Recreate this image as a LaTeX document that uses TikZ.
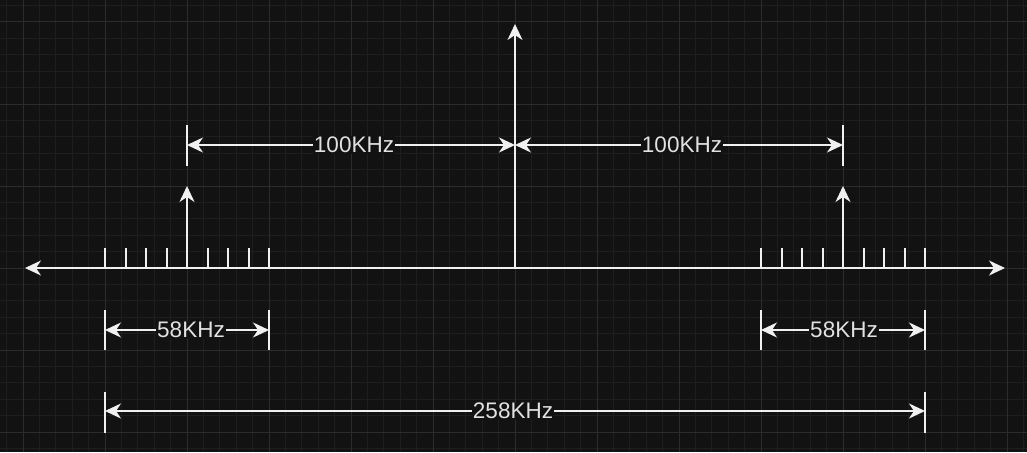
\documentclass[tikz,border=0pt]{standalone}
\usepackage{fontspec}
\setmainfont{Liberation Sans}
\usetikzlibrary{arrows.meta}
\definecolor{bg}{RGB}{18,18,18}
\definecolor{gminor}{RGB}{30,30,30}
\definecolor{gmajor}{RGB}{44,44,44}
\definecolor{ink}{RGB}{240,240,240}
\definecolor{txt}{RGB}{225,225,225}
\tikzset{
  tip/.style={-{Stealth[length=16pt,width=15pt,inset=5pt]}},
  both/.style={{Stealth[length=16pt,width=15pt,inset=5pt]}-{Stealth[length=16pt,width=15pt,inset=5pt]}},
  ln/.style={draw=ink,line width=2pt},
  lbl/.style={fill=bg,text=txt,inner sep=1pt,font=\fontsize{22.5}{26}\selectfont},
}
\begin{document}
\begin{tikzpicture}[x=1pt,y=-1pt]
\fill[bg] (0,0) rectangle (1027,452);
\useasboundingbox (0,0) rectangle (1027,452);
\foreach \i in {-1,...,62} \draw[gminor,line width=1pt] ({23+16.4*\i},0) -- ({23+16.4*\i},452);
\foreach \j in {-1,...,27} \draw[gminor,line width=1pt] (0,{22+16.4*\j}) -- (1027,{22+16.4*\j});
\foreach \i in {0,...,12} \draw[gmajor,line width=1pt] ({23+82*\i},0) -- ({23+82*\i},452);
\foreach \j in {0,...,5} \draw[gmajor,line width=1pt] (0,{22+82*\j}) -- (1027,{22+82*\j});

% axis
\coordinate (axL) at (25,268);
\coordinate (axR) at (1005,268);
\draw[ln,both] (axL) -- (axR);
% center carrier
\coordinate (c0) at (515,268);
\coordinate (c1) at (515,24);
\draw[ln,tip] (c0) -- (c1);
% side carriers
\coordinate (l0) at (187,268);
\coordinate (l1) at (187,186);
\draw[ln,tip] (l0) -- (l1);
\coordinate (r0) at (843,268);
\coordinate (r1) at (843,186);
\draw[ln,tip] (r0) -- (r1);
% ticks
\foreach \x in {105,125.5,146,166.5,207.5,228,248.5,269,761,781.5,802,822.5,863.5,884,904.5,925}
  \draw[ln] (\x,268) -- (\x,248);

% 100KHz bars
\coordinate (b1t) at (187,125); \coordinate (b1b) at (187,166);
\draw[ln] (b1t) -- (b1b);
\coordinate (b2t) at (843,125); \coordinate (b2b) at (843,166);
\draw[ln] (b2t) -- (b2b);
\coordinate (dL) at (187,145); \coordinate (dM) at (515,145); \coordinate (dR) at (843,145);
\draw[ln,both] (dL) -- node[lbl,xshift=3pt] (t100a) {100KHz} (dM);
\draw[ln,both] (dM) -- node[lbl,xshift=3pt] (t100b) {100KHz} (dR);

% 58KHz
\foreach \x/\n in {105/a,269/b,761/c,925/d} {
  \coordinate (s\n t) at (\x,310); \coordinate (s\n b) at (\x,350);
  \draw[ln] (s\n t) -- (s\n b);
}
\coordinate (e1) at (105,330); \coordinate (e2) at (269,330);
\coordinate (e3) at (761,330); \coordinate (e4) at (925,330);
\draw[ln,both] (e1) -- node[lbl,xshift=4pt] (t58a) {58KHz} (e2);
\draw[ln,both] (e3) -- node[lbl,xshift=1pt] (t58b) {58KHz} (e4);

% 258KHz
\coordinate (g1t) at (105,392); \coordinate (g1b) at (105,433);
\coordinate (g2t) at (925,392); \coordinate (g2b) at (925,433);
\draw[ln] (g1t) -- (g1b);
\draw[ln] (g2t) -- (g2b);
\coordinate (f1) at (105,411); \coordinate (f2) at (925,411);
\draw[ln,both] (f1) -- node[lbl,xshift=-2pt] (t258) {258KHz} (f2);
\end{tikzpicture}
\end{document}
